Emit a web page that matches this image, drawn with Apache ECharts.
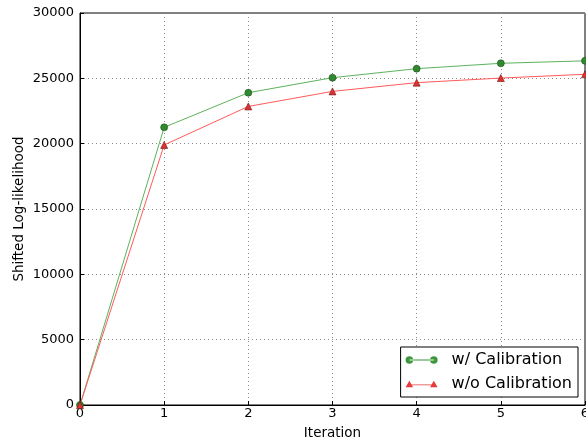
<!DOCTYPE html>
<html>
<head>
<meta charset="utf-8">
<script src="https://cdn.jsdelivr.net/npm/echarts@6/dist/echarts.min.js"></script>
<style>
  html, body { margin: 0; padding: 0; background: #fff; }
  #chart { width: 586px; height: 439px; }
</style>
</head>
<body>
<div id="chart"></div>
<script>
  var iterations = [0, 1, 2, 3, 4, 5, 6];
  var withCalib = [0, 21250, 23900, 25050, 25740, 26150, 26340];
  var withoutCalib = [0, 19900, 22850, 24000, 24670, 25020, 25310];
  var seriesNames = ['w/ Calibration', 'w/o Calibration'];

  function pairs (xs, ys) {
    return xs.map(function (x, i) { return [x, ys[i]] })
  }

  // legend icons: marker at both ends of a short line, like matplotlib
  var circleIcon = 'path://M0,4a4,4 0 1,0 8,0a4,4 0 1,0 -8,0Z M4,3.6h26v0.8h-26Z M26,4a4,4 0 1,0 8,0a4,4 0 1,0 -8,0Z';
  var triIcon = 'path://M0,7.5L4,0.5L8,7.5Z M4,4.6h26v0.8h-26Z M26,7.5L30,0.5L34,7.5Z';

  var font = 'DejaVu Sans';
  var chart = echarts.init(document.getElementById('chart'));
  var option = {
    animation: false,
    backgroundColor: '#fff',
    textStyle: { fontFamily: font },
    grid: {
      left: 80, right: 1, top: 13, bottom: 34,
      outerBoundsMode: 'none',
      containLabel: false,
      show: true, borderColor: '#000', borderWidth: 1
    },
    legend: {
      data: [
        { name: seriesNames[0], icon: circleIcon, itemStyle: { color: '#3c963c', borderWidth: 0 } },
        { name: seriesNames[1], icon: triIcon, itemStyle: { color: '#e83a3a', borderWidth: 0 } }
      ],
      orient: 'vertical',
      right: 8,
      bottom: 42,
      itemWidth: 32,
      itemHeight: 8,
      itemGap: 8,
      padding: [5, 6, 5, 5],
      backgroundColor: '#fff',
      borderColor: '#000',
      borderWidth: 1,
      textStyle: { fontFamily: font, fontSize: 16, color: '#000', padding: [0, 0, 0, 9] }
    },
    xAxis: {
      type: 'value',
      min: 0, max: 6, interval: 1,
      name: 'Iteration',
      nameLocation: 'middle',
      nameGap: 21,
      nameMoveOverlap: false,
      nameTextStyle: { fontFamily: font, fontSize: 13.5, color: '#000' },
      axisLine: { lineStyle: { color: '#000' } },
      axisTick: { inside: true, length: 4, lineStyle: { color: '#000' } },
      axisLabel: { fontFamily: font, fontSize: 13, color: '#000', margin: 2 },
      splitLine: { show: true, lineStyle: { color: '#888', type: [1, 3] } }
    },
    yAxis: {
      type: 'value',
      min: 0, max: 30000, interval: 5000,
      name: 'Shifted Log-likelihood',
      nameLocation: 'middle',
      nameGap: 54,
      nameMoveOverlap: false,
      nameTextStyle: { fontFamily: font, fontSize: 13.5, color: '#000' },
      axisLine: { show: true, lineStyle: { color: '#000' } },
      axisTick: { show: true, inside: true, length: 4, lineStyle: { color: '#000' } },
      axisLabel: {
        fontFamily: font, fontSize: 13, color: '#000', margin: 6,
        formatter: function (v) { return String(v) }
      },
      splitLine: { show: true, lineStyle: { color: '#888', type: [1, 3] } }
    },
    series: [
      {
        name: seriesNames[0],
        type: 'line',
        data: pairs(iterations, withCalib),
        symbol: 'circle',
        symbolSize: 7,
        lineStyle: { color: '#5cb25c', width: 1 },
        itemStyle: { color: '#2f8a2f', borderColor: '#1d4d1d', borderWidth: 0.6 }
      },
      {
        name: seriesNames[1],
        type: 'line',
        data: pairs(iterations, withoutCalib),
        symbol: 'triangle',
        symbolSize: 7,
        lineStyle: { color: '#ff5a5a', width: 1 },
        itemStyle: { color: '#e03030', borderColor: '#6a1a1a', borderWidth: 0.6 }
      }
    ]
  };
  chart.setOption(option);
</script>
</body>
</html>
